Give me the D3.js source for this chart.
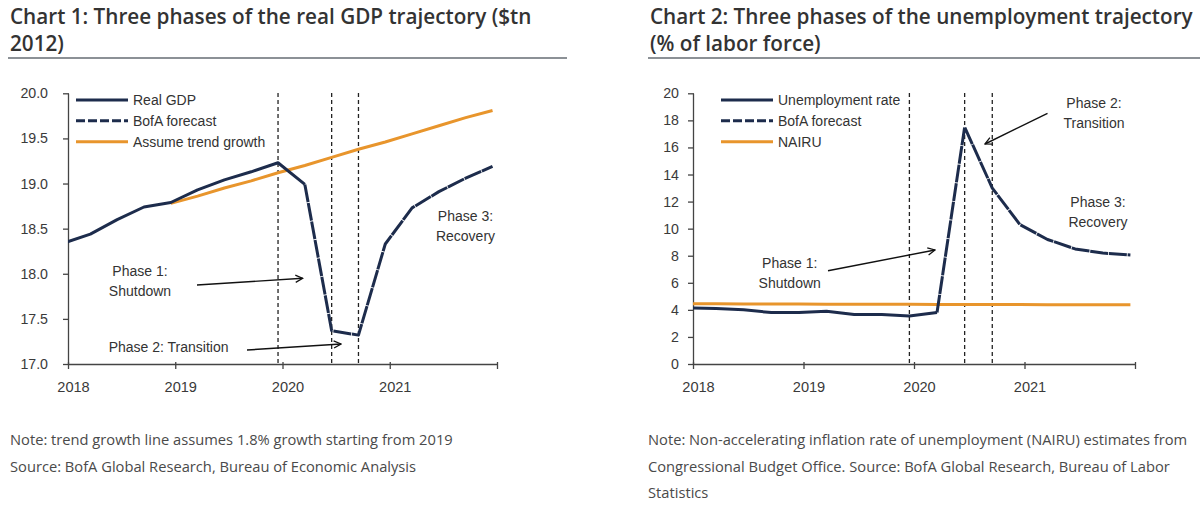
<!DOCTYPE html>
<html><head><meta charset="utf-8">
<script src="https://cdn.jsdelivr.net/npm/d3@7/dist/d3.min.js"></script>
<style>
html,body{margin:0;padding:0;background:#fff;}
svg{display:block;}
</style></head>
<body>
<svg id="chart" width="1200" height="511"></svg>
<script>
// ---------------- DATA ----------------
const quarters = ["2017Q4","2018Q1","2018Q2","2018Q3","2018Q4","2019Q1","2019Q2","2019Q3","2019Q4",
                  "2020Q1","2020Q2","2020Q3","2020Q4","2021Q1","2021Q2","2021Q3","2021Q4"];
// Chart 1: real GDP ($tn 2012)
const gdpActualQuarters = quarters.slice(0, 10);
const gdpActual = [18.34, 18.44, 18.60, 18.74, 18.79, 18.93, 19.04, 19.13, 19.23, 18.99];
const gdpForecastQuarters = quarters.slice(9);
const gdpForecast = [18.99, 17.37, 17.32, 18.33, 18.73, 18.91, 19.06, 19.19];
const trendQuarters = quarters.slice(4);
const trendGrowth = [18.78, 18.86, 18.95, 19.03, 19.12, 19.20, 19.29, 19.38, 19.46, 19.55, 19.64, 19.73, 19.81];
// Chart 2: unemployment (% of labor force)
const urActualQuarters = quarters.slice(0, 10);
const urActual = [4.15, 4.1, 4.0, 3.8, 3.8, 3.9, 3.65, 3.65, 3.55, 3.8];
const urForecastQuarters = quarters.slice(9);
const urForecast = [3.8, 17.5, 13.0, 10.3, 9.2, 8.5, 8.2, 8.05];
const nairu = [4.45, 4.45, 4.44, 4.44, 4.43, 4.42, 4.42, 4.41, 4.41, 4.40, 4.40, 4.39, 4.39, 4.38, 4.38, 4.37, 4.37];
// phase boundaries
const phaseQuarters = ["2019Q4", "2020Q2", "2020Q3"];
// axes
const xTickYears = [2018, 2019, 2020, 2021, 2022];
const xTickLabels = ["2018", "2019", "2020", "2021", ""];
const gdpTicks = [17.0, 17.5, 18.0, 18.5, 19.0, 19.5, 20.0];
const urTicks = [0, 2, 4, 6, 8, 10, 12, 14, 16, 18, 20];
// text
const titles1 = ["Chart 1: Three phases of the real GDP trajectory ($tn", "2012)"];
const titles2 = ["Chart 2: Three phases of the unemployment trajectory", "(% of labor force)"];
const notes1 = ["Note: trend growth line assumes 1.8% growth starting from 2019",
                "Source: BofA Global Research, Bureau of Economic Analysis"];
const notes2 = ["Note: Non-accelerating inflation rate of unemployment (NAIRU) estimates from",
                "Congressional Budget Office. Source: BofA Global Research, Bureau of Labor",
                "Statistics"];
const legend1 = ["Real GDP", "BofA forecast", "Assume trend growth"];
const legend2 = ["Unemployment rate", "BofA forecast", "NAIRU"];

// --------------- HELPERS ---------------
const NAVY = "#1d2c4c", ORANGE = "#e8952c";
const qToYear = q => +q.slice(0, 4) + (3 * +q.slice(5) - 0.5) / 12;
const svg = d3.select("#chart");
svg.append("rect").attr("width", 1200).attr("height", 511).attr("fill", "#fff");
const defs = svg.append("defs");
defs.append("marker").attr("id", "arr").attr("viewBox", "0 0 10 10")
  .attr("refX", 9).attr("refY", 5).attr("markerWidth", 9).attr("markerHeight", 9)
  .attr("markerUnits", "userSpaceOnUse").attr("orient", "auto")
  .append("path").attr("d", "M1,1 L9,5 L1,9").attr("fill", "none").attr("stroke", "#111").attr("stroke-width", 1.4);

const AX = "Liberation Sans, Arial, sans-serif";
const HUM = "'Open Sans', 'Noto Sans', sans-serif";

function drawChart(cfg) {
  const x = d3.scaleLinear().domain([2018, 2022]).range([cfg.x0, cfg.x1]);
  const y = d3.scaleLinear().domain(cfg.yDomain).range([364, 93.3]);
  const g = svg.append("g");

  // titles
  cfg.titles.forEach((t, i) => {
    g.append("text").attr("x", cfg.titleX).attr("y", 24 + i * 27)
      .attr("font-family", HUM).attr("font-weight", 600).attr("font-size", 20.7)
      .attr("fill", "#333").text(t);
  });
  g.append("line").attr("x1", cfg.titleX - 2).attr("x2", cfg.ruleX2).attr("y1", 58).attr("y2", 58)
    .attr("stroke", "#8c9196").attr("stroke-width", 2);

  // clip
  const cid = "clip" + cfg.id;
  defs.append("clipPath").attr("id", cid).append("rect")
    .attr("x", cfg.x0).attr("y", 80).attr("width", cfg.x1 - cfg.x0 + 2).attr("height", 290);

  // phase lines
  g.selectAll(".phase").data(phaseQuarters).join("line")
    .attr("x1", d => x(qToYear(d))).attr("x2", d => x(qToYear(d)))
    .attr("y1", 93).attr("y2", 364)
    .attr("stroke", "#222").attr("stroke-width", 1.3).attr("stroke-dasharray", "4,3");

  // axes
  const yAxis = g.append("g").attr("transform", `translate(${cfg.x0},0)`)
    .call(d3.axisLeft(y).tickValues(cfg.yTicks).tickSize(5).tickSizeOuter(0).tickFormat(cfg.yFmt));
  yAxis.select(".domain").attr("stroke", "#444").attr("stroke-width", 1.3);
  yAxis.selectAll(".tick line").attr("stroke", "#444").attr("stroke-width", 1.3).attr("x2", -5).attr("x1", 1);
  yAxis.selectAll(".tick text").attr("x", -cfg.yLabelGap).attr("font-family", AX).attr("font-size", 14.2).attr("fill", "#3a3a3a");

  const xAxis = g.append("g").attr("transform", "translate(0,364)")
    .call(d3.axisBottom(x).tickValues(xTickYears).tickSize(5).tickSizeOuter(0)
      .tickFormat((d, i) => xTickLabels[i]));
  xAxis.select(".domain").attr("stroke", "#444").attr("stroke-width", 1.3);
  xAxis.selectAll(".tick line").attr("stroke", "#444").attr("stroke-width", 1.3).attr("y1", -2).attr("y2", 5);
  xAxis.selectAll(".tick text").attr("x", 5).attr("y", 27.5).attr("dy", 0)
    .attr("font-family", AX).attr("font-size", 14.6).attr("fill", "#3a3a3a");

  // lines
  const line = d3.line().x(d => x(qToYear(d[0]))).y(d => y(d[1]));
  const lg = g.append("g").attr("clip-path", `url(#${cid})`);
  lg.append("path").datum(d3.zip(cfg.refQ, cfg.refV)).attr("d", line)
    .attr("fill", "none").attr("stroke", ORANGE).attr("stroke-width", 3);
  lg.append("path").datum(d3.zip(cfg.actQ, cfg.actV)).attr("d", line)
    .attr("fill", "none").attr("stroke", NAVY).attr("stroke-width", 3).attr("stroke-linejoin", "round");
  lg.append("path").datum(d3.zip(cfg.fcQ, cfg.fcV)).attr("d", line)
    .attr("fill", "none").attr("stroke", NAVY).attr("stroke-width", 3).attr("stroke-linejoin", "round")
    .attr("stroke-dasharray", "18,0.8");

  // legend
  const ly = [100, 120.7, 141.7];
  const styles = [{c: NAVY, d: null}, {c: NAVY, d: "9,3"}, {c: ORANGE, d: null}];
  cfg.legend.forEach((t, i) => {
    g.append("line").attr("x1", cfg.legX).attr("x2", cfg.legX + 52).attr("y1", ly[i]).attr("y2", ly[i])
      .attr("stroke", styles[i].c).attr("stroke-width", 3).attr("stroke-dasharray", styles[i].d);
    g.append("text").attr("x", cfg.legX + 57).attr("y", ly[i]).attr("dy", "0.36em")
      .attr("font-family", AX).attr("font-size", 14).attr("fill", "#333").text(t);
  });

  // annotations
  cfg.annots.forEach(a => {
    a.lines.forEach((t, i) => {
      g.append("text").attr("x", a.x).attr("y", a.y + i * 20).attr("dy", "0.36em")
        .attr("text-anchor", "middle").attr("font-family", AX).attr("font-size", 14)
        .attr("fill", "#333").text(t);
    });
  });
  cfg.arrows.forEach(a => {
    g.append("line").attr("x1", a[0]).attr("y1", a[1]).attr("x2", a[2]).attr("y2", a[3])
      .attr("stroke", "#111").attr("stroke-width", 1.4).attr("marker-end", "url(#arr)");
  });

  // notes
  cfg.notes.forEach((t, i) => {
    g.append("text").attr("x", cfg.noteX).attr("y", 445 + i * 26.5)
      .attr("font-family", HUM).attr("font-size", 14.7).attr("fill", "#4a4a4a").text(t);
  });
}

drawChart({
  id: 1, x0: 68, x1: 497, yDomain: [17, 20], yTicks: gdpTicks, yFmt: d3.format(".1f"), yLabelGap: 20,
  titles: titles1, titleX: 10, ruleX2: 567,
  actQ: gdpActualQuarters, actV: gdpActual, fcQ: gdpForecastQuarters, fcV: gdpForecast,
  refQ: trendQuarters, refV: trendGrowth,
  legend: legend1, legX: 76,
  annots: [
    {x: 140, y: 270.7, lines: ["Phase 1:", "Shutdown"]},
    {x: 168.6, y: 346.7, lines: ["Phase 2: Transition"]},
    {x: 465.5, y: 216, lines: ["Phase 3:", "Recovery"]}
  ],
  arrows: [[197, 285, 302.7, 278.3], [247, 350, 341, 344]],
  notes: notes1, noteX: 10
});

drawChart({
  id: 2, x0: 693, x1: 1135, yDomain: [0, 20], yTicks: urTicks, yFmt: d3.format("d"), yLabelGap: 14,
  titles: titles2, titleX: 650, ruleX2: 1200,
  actQ: urActualQuarters, actV: urActual, fcQ: urForecastQuarters, fcV: urForecast,
  refQ: quarters, refV: nairu,
  legend: legend2, legX: 721,
  annots: [
    {x: 789.7, y: 262.7, lines: ["Phase 1:", "Shutdown"]},
    {x: 1094, y: 102.7, lines: ["Phase 2:", "Transition"]},
    {x: 1098, y: 202, lines: ["Phase 3:", "Recovery"]}
  ],
  arrows: [[828, 270.7, 935, 250], [1047.5, 113.3, 985, 144]],
  notes: notes2, noteX: 648
});
</script>
</body></html>
